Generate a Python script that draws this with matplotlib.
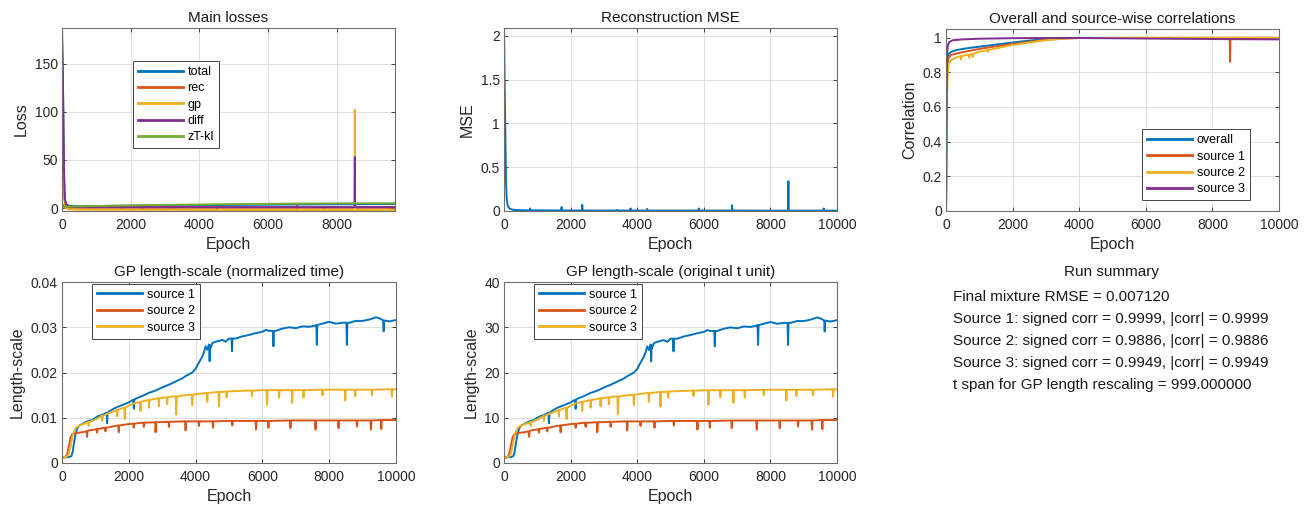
import numpy as np
import matplotlib
matplotlib.use("Agg")
import matplotlib.pyplot as plt
from matplotlib.ticker import FuncFormatter

plt.rcParams['font.family'] = ['Liberation Sans', 'DejaVu Sans']

# MATLAB default line colours
C_BLUE = '#0072BD'
C_ORANGE = '#D95319'
C_YELLOW = '#EDB120'
C_PURPLE = '#7E2F8E'
C_GREEN = '#77AC30'

# ---- Main losses (epoch, value) ----
loss_total = [(1, 176), (30, 117), (50, 40), (80, 10), (120, 4), (200, 2.5), (500, 2.0),
              (1000, 2.2), (3000, 2.8), (5000, 3.3), (7000, 3.8), (9700, 4.2)]
loss_rec = [(1, 5), (60, 1), (200, 0.4), (9700, 0.3)]
loss_gp = [(1, 115), (30, 60), (60, 10), (100, 0), (200, -1.2), (500, -1.7), (1000, -1.8),
           (3000, -1.9), (6000, -2.0), (9700, -2.1)]
loss_diff = [(1, 187), (20, 150), (40, 100), (60, 40), (80, 10), (120, 3), (300, 1.2), (1000, 1.1),
             (9700, 1.1)]
loss_kl = [(1, 1.2), (200, 1.6), (1000, 2.2), (2000, 2.8), (3000, 3.3), (4000, 3.7), (5000, 4.1),
           (6000, 4.4), (7000, 4.7), (8000, 4.9), (9700, 5.1)]
# spikes (epoch, line level, tip)
rec_spikes = [(760, 0.4, 1.5), (1750, 0.4, 2.6), (2350, 0.4, 3.0), (3250, 0.4, 1.2),
              (4500, 0.4, 1.0), (6850, 0.4, 3.0), (7650, 0.4, 1.2), (9500, 0.4, 1.2)]
gp_spikes = [(8530, -2.0, 102)]
diff_spikes = [(8530, 1.1, 53)]

# ---- Reconstruction MSE ----
mse = [(1, 2.09), (20, 1.45), (40, 0.9), (60, 0.35), (80, 0.15), (110, 0.06), (160, 0.03),
       (250, 0.015), (400, 0.01), (800, 0.008), (2000, 0.006), (4000, 0.005), (6000, 0.005),
       (8000, 0.004), (10000, 0.004)]
mse_spikes = [(780, 0.007, 0.03), (1730, 0.006, 0.045), (2350, 0.006, 0.07), (3400, 0.005, 0.012),
              (3800, 0.005, 0.03), (4300, 0.005, 0.025), (5850, 0.005, 0.03), (6850, 0.005, 0.065),
              (8540, 0.004, 0.34), (9600, 0.004, 0.03)]

# ---- Correlations ----
corr_overall = [(1, 0), (20, 0.7), (45, 0.86), (80, 0.905), (150, 0.918), (300, 0.928), (600, 0.938),
                (1000, 0.948), (1500, 0.96), (2000, 0.972), (2500, 0.983), (3000, 0.992), (3500, 0.997),
                (4000, 0.999), (6000, 0.998), (8000, 0.997), (10000, 0.996)]
corr_s1 = [(1, 0), (20, 0.65), (45, 0.84), (80, 0.885), (150, 0.9), (300, 0.908), (600, 0.92),
           (1000, 0.935), (1500, 0.95), (2000, 0.963), (2500, 0.976), (3000, 0.988), (3500, 0.995),
           (4000, 0.998), (6000, 0.999), (8000, 0.999), (10000, 0.999)]
corr_s2 = [(1, 0), (20, 0.55), (45, 0.78), (80, 0.85), (150, 0.87), (300, 0.885), (600, 0.9),
           (1000, 0.918), (1500, 0.938), (2000, 0.958), (2500, 0.972), (3000, 0.985), (3500, 0.994),
           (4000, 0.998), (6000, 0.999), (8000, 1.0), (10000, 1.0)]
corr_s3 = [(1, 0), (15, 0.5), (30, 0.9), (55, 0.955), (100, 0.975), (200, 0.985), (500, 0.99),
           (1000, 0.994), (2000, 0.997), (3000, 0.998), (4000, 0.998), (6000, 0.995), (8000, 0.992),
           (10000, 0.99)]
corr_s1_spikes = [(8530, 0.999, 0.86)]
corr_s2_spikes = [(450, 0.893, 0.875), (700, 0.902, 0.885), (800, 0.906, 0.89), (1250, 0.928, 0.918)]

# ---- GP length-scale (normalized time) ----
ls_s1 = [(1, 0.0012), (200, 0.0013), (280, 0.0015), (320, 0.0025), (360, 0.0045), (400, 0.0062),
         (450, 0.0075), (500, 0.0082), (600, 0.0086), (700, 0.0090), (800, 0.0093), (900, 0.0095),
         (1000, 0.0100), (1100, 0.0104), (1200, 0.0106), (1300, 0.0110), (1400, 0.0113), (1500, 0.0118),
         (1600, 0.0122), (1800, 0.0128), (2000, 0.0134), (2200, 0.0142), (2400, 0.0148), (2600, 0.0155),
         (2800, 0.0160), (3000, 0.0167), (3200, 0.0173), (3400, 0.0180), (3600, 0.0187), (3700, 0.0192),
         (3800, 0.0196), (3900, 0.0200), (4000, 0.0208), (4100, 0.0222), (4200, 0.0235), (4250, 0.0245),
         (4300, 0.0258), (4350, 0.0250), (4400, 0.0262), (4450, 0.0255), (4500, 0.0265), (4600, 0.0268),
         (4700, 0.0270), (4800, 0.0272), (4900, 0.0268), (5000, 0.0275), (5200, 0.0275), (5400, 0.0280),
         (5600, 0.0283), (5800, 0.0287), (6000, 0.0290), (6100, 0.0294), (6200, 0.0292), (6400, 0.0292),
         (6600, 0.0297), (6800, 0.0300), (7000, 0.0298), (7200, 0.0302), (7400, 0.0301), (7600, 0.0304),
         (7800, 0.0308), (8000, 0.0312), (8200, 0.0308), (8400, 0.0310), (8600, 0.0310), (8800, 0.0314),
         (9000, 0.0314), (9200, 0.0317), (9400, 0.0322), (9500, 0.0320), (9600, 0.0316), (9800, 0.0313),
         (10000, 0.0316)]
ls_s2 = [(1, 0.0012), (100, 0.0013), (150, 0.0018), (200, 0.0035), (250, 0.0055), (300, 0.0063),
         (400, 0.0066), (600, 0.0068), (800, 0.0072), (1000, 0.0074), (1200, 0.0077), (1400, 0.0079),
         (1600, 0.0082), (1800, 0.0084), (2000, 0.0086), (2400, 0.0089), (2800, 0.0090), (3200, 0.0091),
         (3600, 0.0092), (4000, 0.0092), (5000, 0.0093), (6000, 0.0093), (7000, 0.0094), (8000, 0.0094),
         (9000, 0.0094), (10000, 0.0095)]
ls_s3 = [(1, 0.0012), (150, 0.0014), (200, 0.0020), (250, 0.0035), (300, 0.0055), (350, 0.0068),
         (400, 0.0076), (450, 0.0080), (500, 0.0082), (600, 0.0085), (700, 0.0088), (800, 0.0090),
         (900, 0.0093), (1000, 0.0096), (1200, 0.0104), (1400, 0.0110), (1600, 0.0116), (1800, 0.0121),
         (2000, 0.0127), (2200, 0.0133), (2400, 0.0136), (2600, 0.0139), (2800, 0.0142), (3000, 0.0144),
         (3300, 0.0147), (3600, 0.0149), (4000, 0.0152), (4400, 0.0155), (4800, 0.0157), (5200, 0.0159),
         (5600, 0.0160), (6000, 0.0161), (7000, 0.0161), (8000, 0.0162), (9000, 0.0162), (10000, 0.0163)]
ls_s1_dips = [(1350, 0.0111, 0.0088), (2150, 0.0140, 0.0120), (4420, 0.0260, 0.0225),
              (5090, 0.0275, 0.0247), (6330, 0.0292, 0.0258), (7630, 0.0305, 0.0261),
              (8530, 0.0310, 0.0261), (9630, 0.0315, 0.0291)]
ls_s2_dips = [(750, 0.0070, 0.0058), (1050, 0.0075, 0.0067), (1300, 0.0078, 0.0070), (1700, 0.0083, 0.0068),
              (2150, 0.0087, 0.0078), (2450, 0.0089, 0.0080), (2800, 0.0090, 0.0068), (3200, 0.0091, 0.0080),
              (3700, 0.0092, 0.0072), (4100, 0.0092, 0.0082), (4520, 0.0092, 0.0078), (5100, 0.0093, 0.0083),
              (5810, 0.0093, 0.0074), (6180, 0.0093, 0.0078), (6840, 0.0094, 0.0077), (7590, 0.0094, 0.0074),
              (8280, 0.0094, 0.0077), (8830, 0.0094, 0.0081), (9250, 0.0094, 0.0074), (9560, 0.0095, 0.0075)]
ls_s3_dips = [(800, 0.0090, 0.0082), (1200, 0.0104, 0.0093), (1650, 0.0117, 0.0103), (1880, 0.0122, 0.0097),
              (2350, 0.0135, 0.0115), (2600, 0.0139, 0.0122), (2900, 0.0143, 0.0125), (3150, 0.0145, 0.0130),
              (3420, 0.0147, 0.0107), (3900, 0.0151, 0.0128), (4350, 0.0155, 0.0135), (4700, 0.0157, 0.0125),
              (4930, 0.0158, 0.0145), (5690, 0.0160, 0.0148), (6140, 0.0161, 0.0129), (6500, 0.0161, 0.0145),
              (6890, 0.0161, 0.0133), (7230, 0.0161, 0.0145), (7800, 0.0162, 0.0150), (8480, 0.0162, 0.0138),
              (8780, 0.0162, 0.0148), (9280, 0.0162, 0.0150), (9880, 0.0163, 0.0147)]

t_span = 999.0
summary_lines = [
    "Final mixture RMSE = 0.007120",
    "Source 1: signed corr = 0.9999, |corr| = 0.9999",
    "Source 2: signed corr = 0.9886, |corr| = 0.9886",
    "Source 3: signed corr = 0.9949, |corr| = 0.9949",
    "t span for GP length rescaling = 999.000000",
]


def with_spikes(pairs, spikes, half=15):
    # put each spike into the series as a narrow V: line level, tip, line level
    pts = list(pairs)
    for e, level, tip in (spikes or []):
        pts += [(e - half, level), (e, tip), (e + half, level)]
    pts.sort(key=lambda p: p[0])
    return np.array(pts, dtype=float)


def draw(ax, pairs, color, label=None, spikes=None, scale=1.0, lw=1.4, half=15):
    a = with_spikes(pairs, spikes, half)
    ax.plot(a[:, 0], a[:, 1] * scale, color=color, lw=lw, label=label)


def style(ax, title, ylabel, xlim, ylim, yticks, xticks):
    ax.set_title(title, fontsize=11, pad=4, color='#1a1a1a')
    ax.set_xlabel('Epoch', fontsize=11.5, color='#262626', labelpad=4)
    ax.set_ylabel(ylabel, fontsize=11.5, color='#262626', labelpad=4)
    ax.set_xlim(*xlim)
    ax.set_ylim(*ylim)
    ax.set_yticks(yticks)
    ax.set_xticks(xticks)
    fmt = FuncFormatter(lambda v, p: f'{v:g}')
    ax.xaxis.set_major_formatter(fmt)
    ax.yaxis.set_major_formatter(fmt)
    ax.tick_params(direction='in', length=3, width=0.6, labelsize=10, colors='#262626',
                   top=True, right=True, pad=3)
    ax.tick_params(axis='x', pad=5)
    ax.grid(True, color='#dedede', lw=0.7)
    ax.set_axisbelow(True)
    for sp in ax.spines.values():
        sp.set_color('#6e6e6e')
        sp.set_linewidth(0.8)


def legend(ax, anchor):
    leg = ax.legend(loc='upper left', bbox_to_anchor=anchor, borderaxespad=0, fontsize=9,
                    handlelength=3.6, handletextpad=0.4, labelspacing=0.35, fancybox=False,
                    framealpha=1, edgecolor='#444444', borderpad=0.4)
    leg.get_frame().set_linewidth(0.7)
    for h in leg.get_lines():
        h.set_linewidth(2)


fig = plt.figure(figsize=(13.09, 5.08), dpi=100)
W, H = 1309, 508


def axes_px(left, top, right, bottom):
    return fig.add_axes([left / W, 1 - bottom / H, (right - left) / W, (bottom - top) / H])


ax1 = axes_px(62, 28, 395, 211)
ax2 = axes_px(504, 28, 837, 211)
ax3 = axes_px(946, 29, 1279, 211)
ax4 = axes_px(62, 282, 396, 463)
ax5 = axes_px(504, 282, 837, 463)

# Main losses
draw(ax1, loss_total, C_BLUE, 'total')
draw(ax1, loss_rec, C_ORANGE, 'rec', rec_spikes, half=10)
draw(ax1, loss_gp, C_YELLOW, 'gp', gp_spikes, half=8)
draw(ax1, loss_diff, C_PURPLE, 'diff', diff_spikes, half=8)
draw(ax1, loss_kl, C_GREEN, 'zT-kl')
style(ax1, 'Main losses', 'Loss', (0, 9700), (-3, 187), [0, 50, 100, 150], range(0, 9000, 2000))
legend(ax1, (0.212, 0.82))

# Reconstruction MSE
draw(ax2, mse, C_BLUE, spikes=mse_spikes, half=10)
style(ax2, 'Reconstruction MSE', 'MSE', (0, 10000), (0, 2.09), [0, 0.5, 1, 1.5, 2], range(0, 10001, 2000))

# Correlations
draw(ax3, corr_overall, C_BLUE, 'overall')
draw(ax3, corr_s1, C_ORANGE, 'source 1', corr_s1_spikes, half=10)
draw(ax3, corr_s2, C_YELLOW, 'source 2', corr_s2_spikes, half=12)
draw(ax3, corr_s3, C_PURPLE, 'source 3')
style(ax3, 'Overall and source-wise correlations', 'Correlation', (0, 10000), (0, 1.05),
      [0, 0.2, 0.4, 0.6, 0.8, 1], range(0, 10001, 2000))
legend(ax3, (0.588, 0.449))

# GP length-scales
for ax, scale, ylim, yt, title in [
        (ax4, 1.0, (0, 0.04), [0, 0.01, 0.02, 0.03, 0.04], 'GP length-scale (normalized time)'),
        (ax5, t_span, (0, 40), [0, 10, 20, 30, 40], 'GP length-scale (original t unit)')]:
    draw(ax, ls_s1, C_BLUE, 'source 1', ls_s1_dips, scale)
    draw(ax, ls_s2, C_ORANGE, 'source 2', ls_s2_dips, scale)
    draw(ax, ls_s3, C_YELLOW, 'source 3', ls_s3_dips, scale)
    style(ax, title, 'Length-scale', (0, 10000), ylim, yt, range(0, 10001, 2000))
    legend(ax, (0.09, 0.99))

# Run summary panel
fig.text(1112 / W, 1 - 272 / H, 'Run summary', fontsize=11, ha='center', va='center', color='#1a1a1a')
for i, line in enumerate(summary_lines):
    fig.text(953 / W, 1 - (297 + 22 * i) / H, line, fontsize=11, ha='left', va='center', color='#1a1a1a')

fig.savefig('out.png', dpi=100)
